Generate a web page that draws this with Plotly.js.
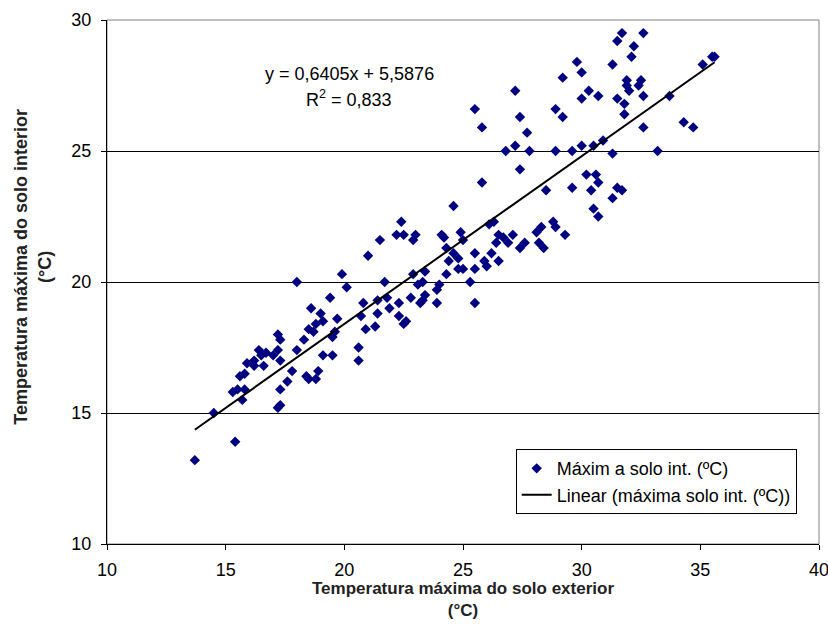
<!DOCTYPE html>
<html><head><meta charset="utf-8">
<script src="https://cdn.plot.ly/plotly-3.0.1.min.js"></script>
<style>body{margin:0;background:#fff}#c{width:828px;height:624px}</style>
</head><body><div id="c"></div>
<script>
const extX = [13.7,14.5,15.4,15.3,15.5,15.8,15.7,15.6,15.8,15.9,16.2,16.2,16.4,16.5,16.6,16.7,17.0,17.2,17.2,17.3,17.3,17.3,17.2,17.3,17.6,17.8,18.0,18.0,18.3,18.5,18.4,18.5,18.6,18.7,18.8,18.8,18.9,19.0,19.1,19.1,19.4,19.5,19.5,19.6,19.7,19.9,20.1,20.6,20.6,20.7,20.8,20.9,21.0,21.3,21.4,21.4,21.5,21.7,21.8,21.9,22.2,22.3,22.3,22.4,22.5,22.5,22.6,22.8,22.9,22.9,23.0,23.1,23.2,23.3,23.3,23.4,23.4,23.9,23.9,24.0,24.1,24.2,24.3,24.3,24.4,24.6,24.6,24.8,24.8,24.9,25.0,25.0,25.3,25.5,25.5,25.5,25.5,25.8,25.8,25.9,26.0,26.1,26.2,26.3,26.4,26.5,26.5,26.7,26.8,26.9,27.1,27.2,27.2,27.4,27.4,27.4,27.6,27.7,27.8,28.1,28.2,28.3,28.4,28.5,28.8,28.9,28.9,28.9,29.2,29.2,29.3,29.6,29.6,29.8,30.0,30.0,30.0,30.2,30.3,30.4,30.5,30.5,30.6,30.7,30.7,30.7,30.9,31.3,31.3,31.3,31.5,31.5,31.5,31.7,31.7,31.8,31.8,31.9,31.9,32.0,32.1,32.2,32.4,32.5,32.6,32.6,32.6,33.2,33.7,34.3,34.7,35.1,35.5,35.6];
const intY = [13.2,15.0,13.9,15.8,15.9,15.9,15.5,16.4,16.5,16.9,17.0,16.8,17.4,17.2,16.8,17.3,17.2,17.4,18.0,17.8,17.0,15.9,15.2,15.3,16.2,16.6,17.4,20.0,17.8,18.2,16.4,16.3,19.0,18.1,18.4,16.3,16.6,18.8,18.5,17.2,19.4,17.2,17.9,18.1,18.6,20.3,19.8,17.5,17.0,18.7,19.2,18.2,21.0,18.3,18.8,19.3,21.6,20.0,19.4,19.0,21.8,19.2,18.7,22.3,18.4,21.8,18.5,19.4,20.3,21.6,21.8,19.9,19.2,19.3,20.0,20.4,19.5,19.7,19.2,19.9,21.8,21.7,21.3,20.3,20.8,22.9,21.1,20.9,20.5,21.9,21.6,20.5,20.0,26.6,21.1,20.5,19.2,25.9,23.8,20.8,20.6,22.2,21.1,22.3,21.5,21.8,20.8,21.7,25.0,21.5,21.8,27.3,25.2,26.3,24.3,21.3,21.5,25.7,25.0,21.9,21.5,22.1,21.3,23.5,22.3,26.6,25.0,22.1,26.3,27.8,21.8,25.0,23.6,28.4,28.0,27.0,25.2,24.1,27.3,23.5,22.8,25.2,24.1,23.8,22.5,27.1,25.4,23.2,24.9,28.3,27.0,23.6,29.2,23.5,29.5,26.8,26.4,27.7,27.5,27.3,28.6,29.0,27.5,27.7,27.1,29.5,25.9,25.0,27.1,26.1,25.9,28.3,28.6,28.6];
const slope = 0.6405, intercept = 5.5876, r2 = "0,833";
const xTicks = [10,15,20,25,30,35,40];
const yTicks = [10,15,20,25,30];
const xTitle = ["Temperatura máxima do solo exterior", "(°C)"];
const yTitle = ["Temperatura máxima do solo interior", "(°C)"];

const xmin = Math.min(...extX), xmax = Math.max(...extX);
const lineX = [xmin, xmax];
const lineY = lineX.map(v => slope*v + intercept);

const tfont = {family:"Liberation Sans, Arial", size:18, color:"#000"};
const bfont = {family:"Liberation Sans, Arial", size:18, color:"#222", weight:"bold"};
const bfontX = {family:"Liberation Sans, Arial", size:17, color:"#222", weight:"bold"};
const traces = [
 {x:extX, y:intY, mode:"markers", type:"scatter", name:"Máxim a solo int. (ºC)",
  marker:{symbol:"diamond", size:8, color:"#000080"}},
 {x:lineX, y:lineY, mode:"lines", type:"scatter", name:"Linear (máxima solo int. (ºC))",
  line:{color:"#000", width:2}}
];
const layout = {
 width:828, height:624, margin:{l:107, r:9, t:20, b:80},
 paper_bgcolor:"#fff", plot_bgcolor:"#fff", showlegend:true,
 font:tfont,
 xaxis:{range:[10,40], tickvals:xTicks, ticks:"outside", ticklen:5, tickcolor:"#000",
   showgrid:false, zeroline:false, showline:true, linecolor:"#000", linewidth:1,
   tickfont:tfont, ticklabelstandoff:4, ticklabeloverflow:"allow"},
 yaxis:{range:[10,30], tickvals:yTicks, ticks:"outside", ticklen:5, tickcolor:"#000",
   showgrid:true, gridcolor:"#000", gridwidth:1, zeroline:false, showline:true, linecolor:"#000", linewidth:1,
   tickfont:tfont, ticklabelstandoff:6, ticklabeloverflow:"allow"},
 legend:{x:0.574, y:0.181, xanchor:"left", yanchor:"top", bgcolor:"#fff",
   bordercolor:"#000", borderwidth:1, font:tfont},
 shapes:[{type:"rect", xref:"paper", yref:"paper", x0:0, x1:1, y0:0, y1:1, line:{color:"#808080", width:1}, layer:"below"}],
 annotations:[
  {xref:"x", yref:"y", x:20.2, y:27.93, showarrow:false, font:tfont, xanchor:"center", yanchor:"middle",
   text:"y = " + String(slope).replace(".",",") + "x + " + String(intercept).replace(".",",")},
  {xref:"x", yref:"y", x:20.2, y:27.02, showarrow:false, font:tfont, xanchor:"center", yanchor:"middle",
   text:"R<sup>2</sup> = " + r2},
  {xref:"paper", yref:"paper", x:0.5, y:-0.1050, showarrow:false, font:bfontX, xanchor:"center", yanchor:"middle", text:xTitle.join("<br>")},
  {xref:"paper", yref:"paper", x:-0.104, y:0.529, showarrow:false, font:bfont, xanchor:"center", yanchor:"middle", textangle:-90, text:yTitle.join("<br>")}
 ]
};
Plotly.newPlot("c", traces, layout, {displayModeBar:false, staticPlot:true});
</script></body></html>
